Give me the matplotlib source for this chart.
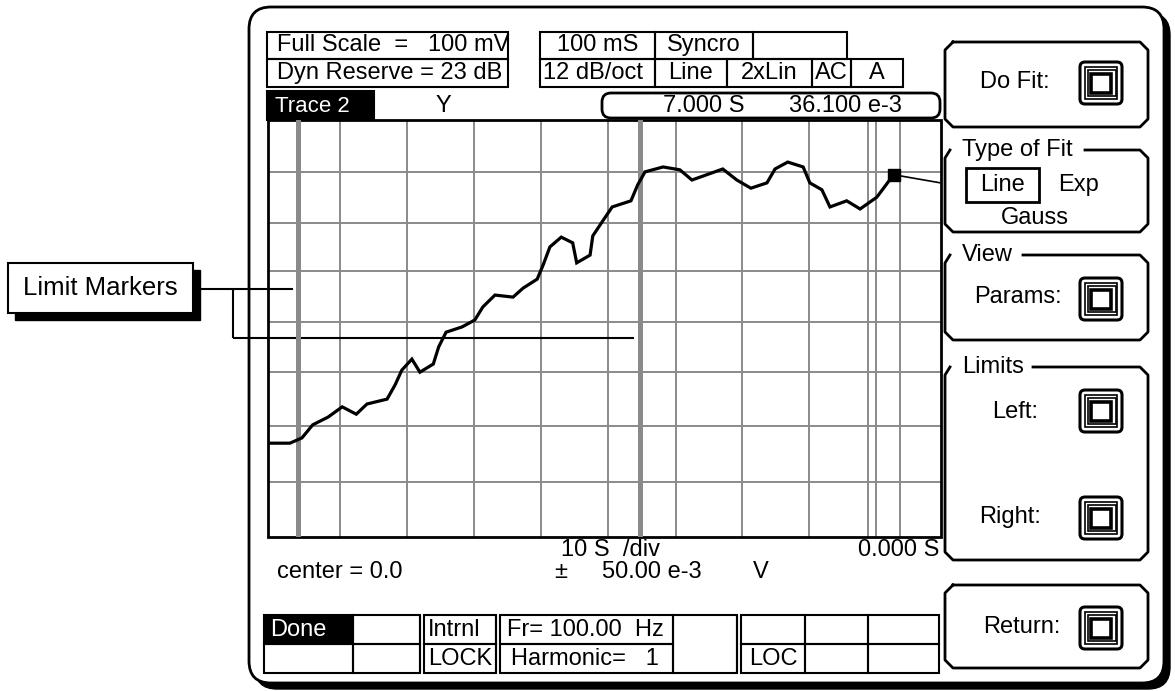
import matplotlib
matplotlib.use("Agg")
import matplotlib.pyplot as plt
from matplotlib.patches import Rectangle, FancyBboxPatch

# ---------------- data ----------------
trace_time_s = [-100.4, -97.1, -95.3, -93.7, -91.4, -89.3, -87.2, -85.6, -82.6, -81.4,
                -80.4, -78.9, -77.7, -75.7, -74.9, -73.8, -71.4, -69.5, -68.3, -66.5,
                -63.8, -62.3, -60.2, -59.3, -58.3, -56.6, -54.9, -54.3, -52.3, -51.9,
                -50.4, -49.0, -46.2, -45.2, -44.1, -41.4, -38.9, -37.1, -32.5, -30.4,
                -28.3, -25.9, -24.7, -22.8, -20.5, -19.5, -17.7, -16.5, -14.0, -12.0,
                -9.5, -7.0]
trace_mV = [-29.7, -29.7, -28.4, -25.2, -23.3, -20.8, -22.6, -20.1, -18.9, -15.4,
            -11.8, -9.1, -12.3, -10.3, -6.1, -2.5, -1.2, 0.5, 3.7, 6.6,
            6.1, 8.3, 10.5, 14.0, 18.4, 20.8, 19.4, 14.5, 16.4, 21.1,
            24.8, 28.2, 29.7, 33.6, 36.8, 38.0, 37.3, 34.8, 37.5, 34.8,
            32.8, 34.1, 37.5, 39.2, 38.0, 34.1, 32.4, 28.2, 29.7, 27.7,
            30.6, 36.1]
tail_time_s = [-7.0, 0.0]
tail_mV = [36.1, 34.1]
cursor_time_s = [-7.0]
cursor_mV = [36.1]
limit_markers_s = [-95.9, -44.9]

header_row1 = ["Full Scale  =   100 mV", "100 mS", "Syncro", ""]
header_row2 = ["Dyn Reserve = 23 dB", "12 dB/oct", "Line", "2xLin", "AC", "A"]
cursor_text = ["7.000 S", "36.100 e-3"]
status_row1 = ["Done", "", "Intrnl", "Fr= 100.00  Hz", "", "", "", ""]
status_row2 = ["", "", "LOCK", "Harmonic=   1", "", "LOC", "", ""]

# ---------------- layout ----------------
W, H = 1175, 691
FONT = ["Liberation Sans", "DejaVu Sans"]
FS = 17
fig = plt.figure(figsize=(W / 100, H / 100), dpi=100)
ax = fig.add_axes([0, 0, 1, 1])
ax.set_xlim(0, W)
ax.set_ylim(H, 0)
ax.axis("off")

LW = 1.5
GRAY = "#8a8a8a"


def txt(x, y, s, ha="left", color="black", fs=FS, **kw):
    ax.text(x, y, s, ha=ha, va="center", color=color, fontsize=fs,
            family=FONT, zorder=6, **kw)


def rect(x0, y0, x1, y1, lw=LW, fc="none", ec="black", z=3):
    ax.add_patch(Rectangle((x0, y0), x1 - x0, y1 - y0, lw=lw, fc=fc, ec=ec, zorder=z))


def line(xs, ys, lw=LW, color="black", z=4):
    ax.plot(xs, ys, lw=lw, color=color, zorder=z, solid_capstyle="butt")


# outer panel with shadow
ax.add_patch(FancyBboxPatch((255, 13), 1164 - 249, 683 - 7,
                            boxstyle="round,pad=0,rounding_size=22",
                            fc="black", ec="black", lw=1, zorder=1))
ax.add_patch(FancyBboxPatch((249, 7), 1164 - 249, 683 - 7,
                            boxstyle="round,pad=0,rounding_size=22",
                            fc="white", ec="black", lw=2, zorder=1.5))

# header boxes
rect(267, 32, 508, 59); rect(267, 59, 508, 87)
txt(277, 45, header_row1[0]); txt(277, 73, header_row2[0])
r1 = [540, 655, 753, 847]
for a, b, s in zip(r1[:-1], r1[1:], header_row1[1:]):
    rect(a, 32, b, 59)
    txt((a + b) / 2, 45, s, ha="center")
r2 = [540, 655, 727, 812, 851, 903]
for a, b, s in zip(r2[:-1], r2[1:], header_row2[1:]):
    rect(a, 59, b, 87)
    if s == "12 dB/oct":
        txt(a + 3, 73, s)
    else:
        txt((a + b) / 2, 73, s, ha="center")

# trace label
rect(267, 91, 374, 120, fc="black", z=3)
txt(275, 106, "Trace 2", color="white", fs=16)
txt(443, 106, "Y", ha="center")

# cursor readout
ax.add_patch(FancyBboxPatch((602, 93), 338, 25,
                            boxstyle="round,pad=0,rounding_size=9",
                            fc="white", ec="black", lw=2, zorder=3))
txt(704, 106, cursor_text[0], ha="center")
txt(845, 106, cursor_text[1], ha="center")

# plot grid & frame (pixel layout)
PX0, PX1, PY0, PY1 = 268, 941, 120, 537
for gx in [340, 407, 474, 541, 608, 676, 742, 809, 876, 868, 900]:
    line([gx, gx], [PY0, PY1], lw=1.4, color=GRAY, z=2)
for gy in [172, 223, 271, 322, 372, 426, 482]:
    line([PX0, PX1], [gy, gy], lw=1.4, color=GRAY, z=2)
rect(PX0, PY0, PX1, PY1, lw=2, z=3)

# bottom labels
txt(561, 550, "10 S  /div")
txt(939, 550, "0.000 S", ha="right")
txt(277, 572, "center = 0.0")
txt(554, 572, "\u00b1")
txt(602, 572, "50.00 e-3")
txt(753, 572, "V")

# status table
TY0, TYM, TY1 = 615, 644, 673
cols = [(264, 353), (353, 420), (424, 496), (500, 673), (673, 737), (741, 805), (805, 868), (868, 939)]
for i, (a, b) in enumerate(cols):
    if i == 4:
        rect(a, TY0, b, TY1)
        continue
    rect(a, TY0, b, TYM, fc="black" if i == 0 else "none")
    rect(a, TYM, b, TY1)
for x in [420, 496, 737]:
    line([x, x], [TY0, TY1], lw=LW)
row1_x = [270, None, 428, 507, None, None, None, None]
row2_x = [None, None, 428, 511, None, 749, None, None]
for s, x in zip(status_row1, row1_x):
    if s:
        txt(x, 630, s, color="white" if s == "Done" else "black")
for s, x in zip(status_row2, row2_x):
    if s:
        txt(x, 659, s)

# limit markers callout
ax.add_patch(Rectangle((15, 270), 185, 50, fc="black", ec="black", lw=1, zorder=3))
rect(8, 263, 193, 313, fc="white", lw=1.5, z=3.5)
txt(100, 288, "Limit Markers", ha="center", fs=18.5)
line([193, 293], [289, 289], lw=1.5, z=5)
line([233, 233], [289, 338], lw=1.5, z=5)
line([233, 634], [338, 338], lw=1.5, z=5)


# right-hand soft-key panel
def octa(x0, y0, x1, y1, c=8, title=None):
    if title is None:
        pts = [(x0 + c, y0), (x1 - c, y0), (x1, y0 + c), (x1, y1 - c), (x1 - c, y1),
               (x0 + c, y1), (x0, y1 - c), (x0, y0 + c), (x0 + c, y0)]
    else:
        tw = {"Type of Fit": 140, "View": 78, "Limits": 88}[title]
        pts = [(x0 + tw, y0), (x1 - c, y0), (x1, y0 + c), (x1, y1 - c), (x1 - c, y1),
               (x0 + c, y1), (x0, y1 - c), (x0, y0 + c), (x0 + 5, y0)]
        txt(x0 + 17, y0, title)
    ax.plot([p[0] for p in pts], [p[1] for p in pts], color="black", lw=2, zorder=4)


def icon(x0, y0, s=42):
    ax.add_patch(FancyBboxPatch((x0, y0), s, s, boxstyle="round,pad=0,rounding_size=5",
                                fc="white", ec="black", lw=2.2, zorder=4))
    rect(x0 + 5, y0 + 5, x0 + s - 5, y0 + s - 5, lw=1.2, z=4.5)
    rect(x0 + 8, y0 + 8, x0 + s - 6, y0 + s - 8, lw=1.2, z=4.5)
    rect(x0 + 11, y0 + 12, x0 + s - 11, y0 + s - 11, lw=2.6, z=4.6)


octa(945, 42, 1148, 127)
txt(1015, 82, "Do Fit:", ha="center"); icon(1080, 62)
octa(945, 150, 1148, 232, title="Type of Fit")
rect(966, 168, 1039, 202, lw=2)
txt(1003, 185, "Line", ha="center"); txt(1078, 185, "Exp", ha="center")
txt(1035, 218, "Gauss", ha="center")
octa(945, 255, 1148, 340, title="View")
txt(1018, 297, "Params:", ha="center"); icon(1080, 278)
octa(945, 367, 1148, 560, title="Limits")
txt(1015, 412, "Left:", ha="center"); icon(1080, 390)
txt(1010, 517, "Right:", ha="center"); icon(1080, 497)
octa(945, 585, 1148, 668)
txt(1022, 627, "Return:", ha="center"); icon(1080, 607)


# ---------------- trace axes (data) ----------------
def px2t(px):
    return (px - 940.5) * 10 / 67


def py2mv(py):
    return (322 - py) * 12.5 / 51


tax = fig.add_axes([PX0 / W, 1 - PY1 / H, (PX1 - PX0) / W, (PY1 - PY0) / H])
tax.set_xlim(px2t(PX0), px2t(PX1))
tax.set_ylim(py2mv(PY1), py2mv(PY0))
tax.patch.set_alpha(0)
tax.axis("off")
for t in limit_markers_s:
    tax.axvline(t, color=GRAY, lw=3.6, zorder=1)
tax.plot(trace_time_s, trace_mV, color="black", lw=2.3, zorder=3,
         solid_joinstyle="miter")
tax.plot(tail_time_s, tail_mV, color="black", lw=1.2, zorder=3)
tax.plot(cursor_time_s, cursor_mV, marker="s", ms=8, color="black", zorder=4, ls="none")

fig.savefig("out.png", dpi=100)
